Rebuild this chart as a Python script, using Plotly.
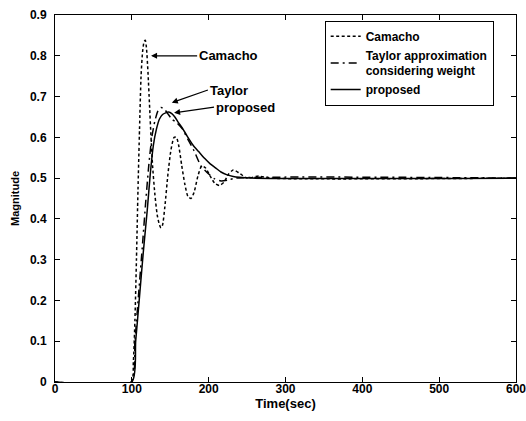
import plotly.graph_objects as go

# ---- data ----
cam_t = [0, 99, 102, 104, 106, 108, 110, 112, 114, 116, 117.5, 119, 121, 123, 125, 127, 130, 133, 136,
         138, 140, 143, 147, 151, 155, 158, 161, 165, 169, 173, 177, 181, 186, 191, 196, 202, 208,
         214, 220, 226, 232, 240, 250, 265, 280, 600]
cam_y = [0, 0, 0.05, 0.15, 0.30, 0.47, 0.62, 0.75, 0.81, 0.835, 0.838, 0.82, 0.76, 0.68, 0.60, 0.53,
         0.46, 0.41, 0.385, 0.378, 0.385, 0.43, 0.51, 0.57, 0.60, 0.60, 0.58, 0.53, 0.485, 0.455, 0.45,
         0.465, 0.505, 0.53, 0.525, 0.505, 0.487, 0.482, 0.49, 0.51, 0.52, 0.512, 0.50, 0.505, 0.50, 0.50]

tay_t = [0, 99, 104, 109, 114, 118, 122, 126, 130, 134, 138, 142, 146, 152, 159, 166, 173, 181,
         190, 200, 208, 216, 225, 235, 600]
tay_y = [0, 0, 0.10, 0.22, 0.34, 0.44, 0.53, 0.60, 0.64, 0.665, 0.673, 0.67, 0.66, 0.645, 0.635,
         0.62, 0.595, 0.567, 0.53, 0.51, 0.498, 0.493, 0.495, 0.50, 0.50]

pro_t = [0, 100, 105, 110, 115, 120, 124, 128, 132, 136, 140, 144, 148, 152, 156, 160, 166, 172,
         180, 187, 195, 202, 209, 216, 224, 232, 240, 255, 600]
pro_y = [0, 0, 0.10, 0.21, 0.32, 0.42, 0.51, 0.58, 0.62, 0.645, 0.656, 0.66, 0.662, 0.658, 0.65,
         0.638, 0.622, 0.603, 0.58, 0.565, 0.548, 0.535, 0.525, 0.515, 0.508, 0.504, 0.502, 0.50, 0.50]

names = ["Camacho", "Taylor approximation<br>considering weight", "proposed"]
x_ticks = [0, 100, 200, 300, 400, 500, 600]
y_ticks = [0, 0.1, 0.2, 0.3, 0.4, 0.5, 0.6, 0.7, 0.8, 0.9]

FONT = "Liberation Sans, Arial, sans-serif"

fig = go.Figure()
fig.add_trace(go.Scatter(x=cam_t, y=cam_y, mode="lines", name=names[0],
                         line=dict(color="black", width=1.5, dash="3px,2.5px", shape="spline", smoothing=0.6)))
fig.add_trace(go.Scatter(x=tay_t, y=tay_y, mode="lines", name=names[1],
                         line=dict(color="black", width=1.5, dash="8px,4px,2px,4px", shape="spline", smoothing=0.6)))
fig.add_trace(go.Scatter(x=pro_t, y=pro_y, mode="lines", name=names[2],
                         line=dict(color="black", width=1.5, shape="spline", smoothing=0.6)))

ann_font = dict(family=FONT, size=13, color="black", weight="bold")
for txt, hx, hy, tx, ty in [("Camacho", 125, 0.80, 185, 0.80),
                            ("Taylor", 152, 0.685, 199, 0.716),
                            ("proposed", 155, 0.66, 207, 0.674)]:
    fig.add_annotation(x=hx, y=hy, ax=tx, ay=ty, axref="x", ayref="y", xref="x", yref="y",
                       text=txt, showarrow=True, arrowhead=2, arrowsize=1, arrowwidth=1.2,
                       arrowcolor="black", xanchor="left", yanchor="middle", font=ann_font)

axis_common = dict(showline=True, linecolor="black", linewidth=1, mirror="ticks", ticks="inside",
                   ticklen=5, tickcolor="black", showgrid=False, zeroline=False, automargin=False,
                   ticklabeloverflow="allow",
                   tickfont=dict(family=FONT, size=12, color="black", weight="bold"))

fig.update_layout(
    width=526, height=421,
    margin=dict(l=55, r=10, t=15, b=39),
    paper_bgcolor="white", plot_bgcolor="white",
    xaxis=dict(range=[0, 600], tickvals=x_ticks, ticktext=[str(v) for v in x_ticks],
               ticklabelstandoff=-4,
               title=dict(text="Time(sec)", font=dict(family=FONT, size=13, color="black", weight="bold"),
                          standoff=0),
               **axis_common),
    yaxis=dict(range=[0, 0.9], tickvals=y_ticks, ticktext=[("%g" % v) for v in y_ticks],
               ticklabelstandoff=5,
               title=dict(text="Magnitude", font=dict(family=FONT, size=11, color="black", weight="bold"),
                          standoff=8),
               **axis_common),
    legend=dict(x=0.585, y=0.984, xanchor="left", yanchor="top", bgcolor="white",
                bordercolor="black", borderwidth=1, itemwidth=30, tracegroupgap=0,
                font=dict(family=FONT, size=12, color="black", weight="bold")),
    showlegend=True,
)

fig.write_html("out.html")
